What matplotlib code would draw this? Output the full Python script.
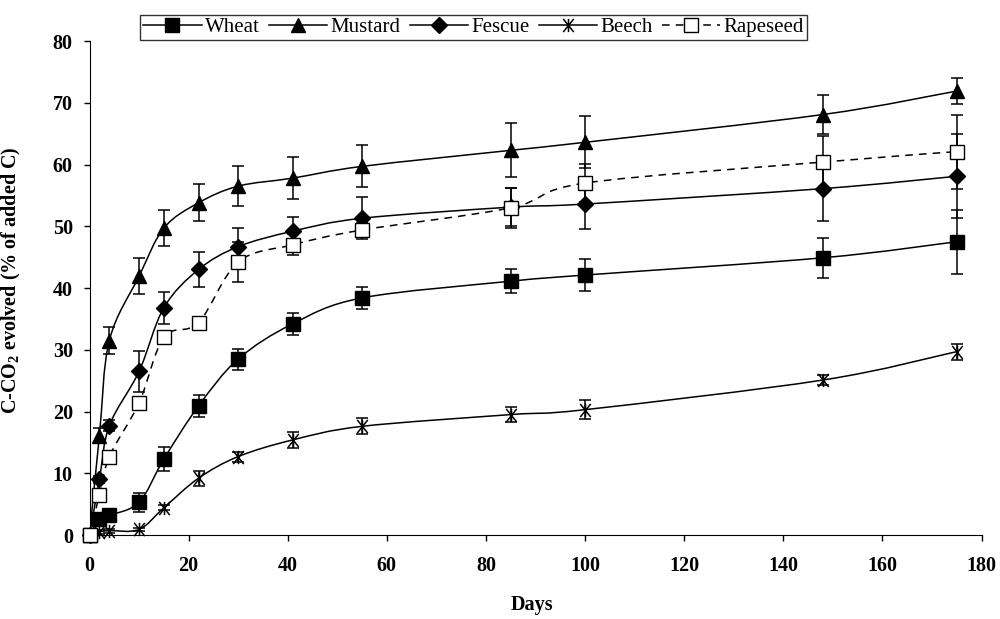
import matplotlib
matplotlib.use("Agg")
import matplotlib.pyplot as plt
from matplotlib.path import Path
from matplotlib.patches import PathPatch
from matplotlib.lines import Line2D

plt.rcParams['font.family'] = ['Liberation Serif', 'DejaVu Serif']
plt.rcParams['mathtext.fontset'] = 'custom'
plt.rcParams['mathtext.rm'] = 'Liberation Serif:bold'
plt.rcParams['mathtext.default'] = 'rm'

days = [0, 2, 4, 10, 15, 22, 30, 41, 55, 85, 100, 148, 175]

wheat = [0, 2.6, 3.2, 5.3, 12.3, 20.9, 28.5, 34.2, 38.4, 41.1, 42.1, 44.9, 47.5]
wheat_err = [0, 0.4, 0.5, 1.5, 2.0, 1.75, 1.7, 1.75, 1.8, 1.9, 2.6, 3.2, 5.2]

mustard = [0, 16.1, 31.5, 41.9, 49.7, 53.8, 56.5, 57.8, 59.7, 62.3, 63.6, 68.1, 71.9]
mustard_err = [0, 1.2, 2.2, 2.9, 2.9, 3.0, 3.2, 3.4, 3.4, 4.4, 4.2, 3.2, 2.1]

fescue = [0, 9.0, 17.7, 26.5, 36.8, 43.0, 46.7, 49.2, 51.3, 53.1, 53.6, 56.1, 58.1]
fescue_err = [0, 0.5, 0.9, 3.3, 2.6, 2.9, 3.0, 2.3, 3.4, 3.1, 4.0, 5.3, 6.8]

beech = [0, 0.5, 0.7, 0.9, 4.4, 9.2, 12.7, 15.4, 17.6, 19.5, 20.3, 25.1, 29.7]
beech_err = [0, 0.3, 0.3, 0.3, 0.4, 1.2, 0.8, 1.3, 1.3, 1.2, 1.5, 0.8, 1.3]

rapeseed = [0, 6.5, 12.7, 21.4, 32.0, 34.4, 44.2, 47.0, 49.4, 53.0, 57.0, 60.4, 62.1]
rapeseed_err = [0, 0.4, 0.5, 0.6, 0.7, 0.6, 3.3, 1.7, 1.2, 3.2, 3.1, 4.3, 6.0]

# star-like marker for beech: an X with a vertical stroke
beech_marker = Path([(0, -1), (0, 1), (-0.8, -1), (0.8, 1), (-0.8, 1), (0.8, -1)],
                    [Path.MOVETO, Path.LINETO, Path.MOVETO, Path.LINETO,
                     Path.MOVETO, Path.LINETO])


def smooth_path(x, y):
    # Catmull-Rom style bezier, like Excel's smoothed line
    pts = list(zip(x, y))
    n = len(pts)
    verts = [pts[0]]
    codes = [Path.MOVETO]
    for i in range(n - 1):
        p0 = pts[i - 1] if i > 0 else pts[i]
        p1 = pts[i]
        p2 = pts[i + 1]
        p3 = pts[i + 2] if i + 2 < n else pts[i + 1]
        c1 = (p1[0] + (p2[0] - p0[0]) / 6, p1[1] + (p2[1] - p0[1]) / 6)
        c2 = (p2[0] - (p3[0] - p1[0]) / 6, p2[1] - (p3[1] - p1[1]) / 6)
        verts += [c1, c2, p2]
        codes += [Path.CURVE4] * 3
    return Path(verts, codes)


series = [
    ("Wheat", wheat, wheat_err, dict(marker='s', mfc='black', ms=9.5), '-'),
    ("Mustard", mustard, mustard_err, dict(marker='^', mfc='black', ms=10.5), '-'),
    ("Fescue", fescue, fescue_err, dict(marker='D', mfc='black', ms=8), '-'),
    ("Beech", beech, beech_err, dict(marker=beech_marker, mfc='none', ms=9.5, mew=1.1), '-'),
    ("Rapeseed", rapeseed, rapeseed_err, dict(marker='s', mfc='white', ms=9.5, mew=1.0), (0, (5, 4))),
]

fig = plt.figure(figsize=(10, 6.19), dpi=100)
ax = fig.add_axes([0.0895, 0.1357, 0.892, 0.798])

handles = []
for name, vals, err, mk, ls in series:
    patch = PathPatch(smooth_path(days, vals), fill=False, edgecolor='black',
                      lw=1.1, linestyle=ls, zorder=2)
    ax.add_patch(patch)
    ax.errorbar(days, vals, yerr=err, fmt='none', ecolor='black', elinewidth=1.1,
                capsize=4, capthick=1.1, zorder=3, clip_on=False)
    ax.plot(days, vals, linestyle='none', mec='black', zorder=4, clip_on=False, **mk)
    handles.append(Line2D([], [], color='black', lw=1.1, linestyle=ls, mec='black', **mk))

ax.set_xlim(0, 180)
ax.set_ylim(0, 80)
ax.set_xticks(range(0, 181, 20))
ax.set_yticks(range(0, 81, 10))
ax.spines['top'].set_visible(False)
ax.spines['right'].set_visible(False)
ax.tick_params(direction='out', length=4, width=1, labelsize=14.5)
for lab in ax.get_xticklabels() + ax.get_yticklabels():
    lab.set_fontweight('bold')
ax.tick_params(axis='x', pad=11)
ax.tick_params(axis='y', pad=8)
ax.set_xlabel("Days", fontsize=14.5, fontweight='bold')
ax.set_ylabel("C-CO$_2$ evolved (% of added C)", fontsize=14.5, fontweight='bold')
ax.xaxis.set_label_coords(0.496, -0.122)
ax.yaxis.set_label_coords(-0.0745, 0.515)

leg = fig.legend(handles=handles, labels=[s[0] for s in series], loc='center',
                 bbox_to_anchor=(0.4735, 0.9556), ncol=5, frameon=True, fancybox=False,
                 fontsize=15, handlelength=2.8, handletextpad=0.15, columnspacing=0.45,
                 borderpad=0.15, borderaxespad=0, edgecolor='black')
leg.get_frame().set_linewidth(1.0)

fig.savefig("out.png", dpi=100)
